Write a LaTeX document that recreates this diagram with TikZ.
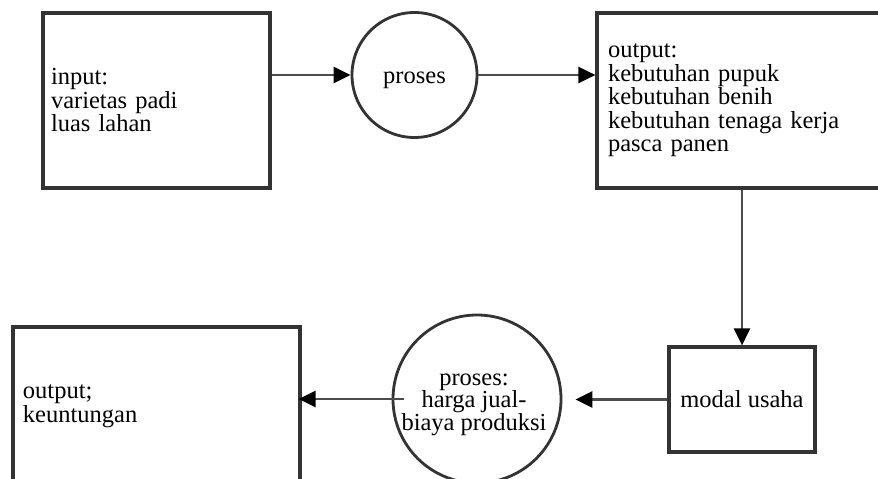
\documentclass[tikz,border=0pt]{standalone}
\usepackage{fontspec}
\setmainfont{Liberation Serif}
\usetikzlibrary{arrows.meta}
\newcommand\dfont{\fontsize{24.5}{23.5}\selectfont}
\begin{document}
\begin{tikzpicture}[x=1pt,y=-1pt,
  font=\dfont,
  box/.style={draw=black!80, line width=3.2pt, rectangle, inner ysep=4pt},
  round/.style={draw=black!80, line width=2.8pt, circle, inner sep=0pt},
  lbl/.style={inner sep=0pt, align=center},
  conn/.style={draw=black!70, line width=2.6pt, -{Triangle[length=17pt,width=16pt,color=black]}}]
\clip (0,0) rectangle (878,479);
\fill[white] (0,0) rectangle (878,479);
\node[box, minimum width=227pt, minimum height=175pt, inner xsep=8pt, text width=211pt, align=left]
  (in) at (156.5,100.5) {input:\\varietas padi\\luas lahan};
\node[round, minimum size=125pt] (p1) at (414.5,75) {};
\node[lbl, anchor=base] (p1t) at (414.5,83) {proses};
\node[box, minimum width=323pt, minimum height=175pt, inner xsep=11pt, text width=301pt, align=left]
  (out) at (758.5,100.5) {output:\\kebutuhan pupuk\\kebutuhan benih\\kebutuhan tenaga kerja\\pasca panen};
\node[box, minimum width=146pt, minimum height=105pt, inner xsep=4pt, align=center]
  (modal) at (742,399.5) {modal usaha};
\node[round, minimum size=168pt] (p2) at (477,399) {};
\node[lbl, anchor=base, font=\fontsize{24.5}{22.5}\selectfont] (p2t) at (474,430)
  {proses:\\harga jual-\\biaya produksi};
\node[box, minimum width=287pt, minimum height=158pt, inner xsep=10pt, text width=267pt, align=left]
  (res) at (156.5,406) {output;\\keuntungan};
\draw[conn] (p1.west -| in.east) -- (p1.west);
\draw[conn] (p1.east) -- (p1.east -| out.west);
\draw[conn] (out.south -| modal.north) -- (modal.north);
\draw[conn, shorten >=13pt] (modal.west) -- (modal.west -| p2.east);
\draw[conn, shorten <=-12pt, shorten >=-3pt] (p2.west) -- (p2.west -| res.east);
\end{tikzpicture}
\end{document}
